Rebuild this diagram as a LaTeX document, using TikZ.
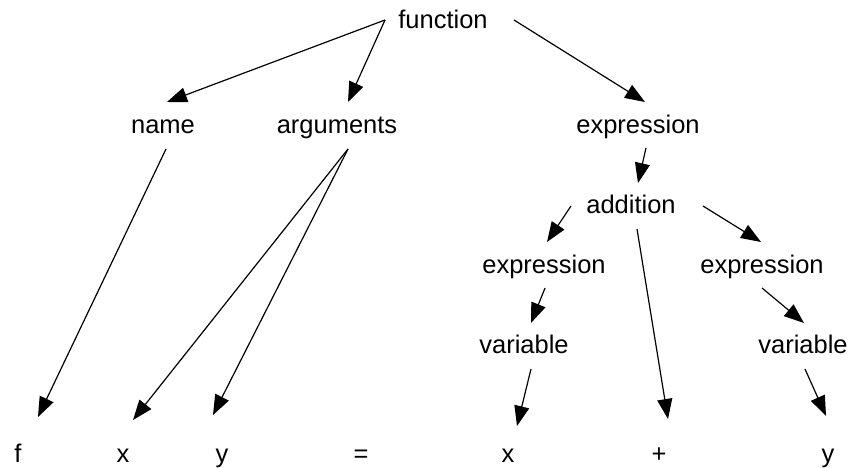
\documentclass[tikz,border=0pt]{standalone}
\usepackage{fontspec}
\setmainfont{Liberation Sans}
\usetikzlibrary{arrows.meta,calc}
\begin{document}
\begin{tikzpicture}[x=1pt,y=-1pt,
  lbl/.style={anchor=base,inner sep=0pt,font=\fontsize{25.5}{30}\selectfont},
  edge/.style={line width=1.2pt,-{Triangle[length=20pt,width=15pt]}}]
\useasboundingbox[fill=white] (0,0) rectangle (851,468);
% nodes (base point = centre x, baseline y)
\node[lbl] (fn) at (443,29) {function};
\node[lbl] (name) at (163,134) {name};
\node[lbl] (args) at (337,134) {arguments};
\node[lbl] (expr) at (638,134) {expression};
\node[lbl] (add) at (631,213) {addition};
\node[lbl] (exprL) at (544,273) {expression};
\node[lbl] (exprR) at (762,273) {expression};
\node[lbl] (varL) at (524,353) {variable};
\node[lbl] (varR) at (803,353) {variable};
\node[lbl] (tf) at (18,462) {f};
\node[lbl] (tx1) at (123,462) {x};
\node[lbl] (ty1) at (222,462) {y};
\node[lbl] (teq) at (361,462) {=};
\node[lbl] (tx2) at (508,462) {x};
\node[lbl] (tplus) at (659,462) {+};
\node[lbl] (ty2) at (828,462) {y};
% edges
\draw[edge] ($(fn.base)+(-58,-9)$) -- ($(name.base)+(4,-32)$);
\draw[edge] ($(fn.base)+(-58,-9)$) -- ($(args.base)+(11,-32)$);
\draw[edge] ($(fn.base)+(71,-9)$) -- ($(expr.base)+(7,-32)$);
\draw[edge] ($(name.base)+(3,15)$) -- ($(tf.base)+(20,-45)$);
\draw[edge] ($(args.base)+(11,15)$) -- ($(tx1.base)+(10,-42)$);
\draw[edge] ($(args.base)+(11,15)$) -- ($(ty1.base)+(-9,-47)$);
\draw[edge] ($(expr.base)+(8,14)$) -- ($(add.base)+(7,-30)$);
\draw[edge] ($(add.base)+(-60,-7)$) -- ($(exprL.base)+(3,-31)$);
\draw[edge] ($(add.base)+(72,-7)$) -- ($(exprR.base)+(-1,-31)$);
\draw[edge] ($(add.base)+(6,16)$) -- ($(tplus.base)+(9,-43)$);
\draw[edge] ($(exprL.base)+(1,15)$) -- ($(varL.base)+(7,-30)$);
\draw[edge] ($(exprR.base)+(0,15)$) -- ($(varR.base)+(1,-30)$);
\draw[edge] ($(varL.base)+(7,16)$) -- ($(tx2.base)+(9,-36)$);
\draw[edge] ($(varR.base)+(2,16)$) -- ($(ty2.base)+(-2,-46)$);
\end{tikzpicture}
\end{document}
